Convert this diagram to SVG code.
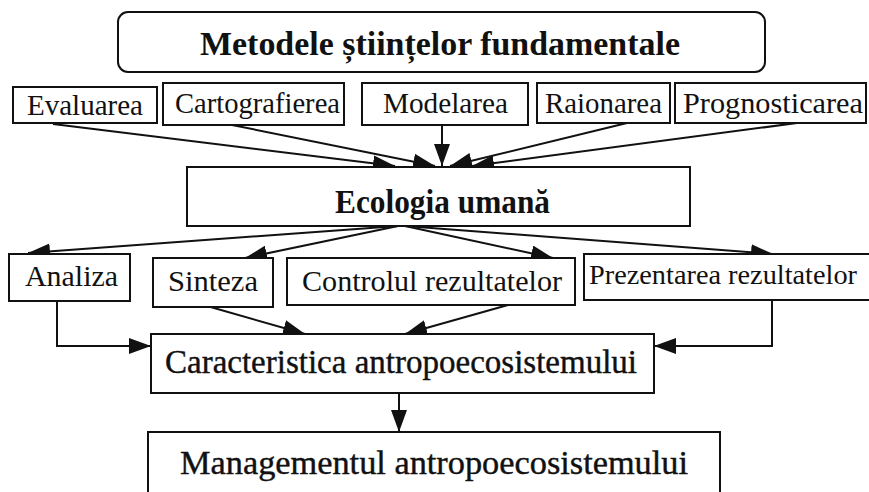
<svg xmlns="http://www.w3.org/2000/svg" width="869" height="492" viewBox="0 0 869 492">
<style>
.box{fill:#fff;stroke:#111;stroke-width:2}
.t{font-family:"Liberation Serif","Times New Roman",serif;fill:#111}
.r{font-size:30px}
.b{font-size:34px;font-weight:bold}
.big{font-size:33px;stroke:#111;stroke-width:0.4}
.c{fill:none;stroke:#111;stroke-width:2}
</style>
<defs>
<marker id="ah" viewBox="0 0 22 16" refX="22" refY="8" markerWidth="22" markerHeight="16" orient="auto" markerUnits="userSpaceOnUse">
<path d="M0,0 L22,8 L0,16 z" fill="#111"/>
</marker>
</defs>
<rect width="869" height="492" fill="#fff"/>

<g id="connectors">
<line class="c" x1="53" y1="124" x2="395" y2="166" marker-end="url(#ah)"/>
<line class="c" x1="232" y1="125" x2="435" y2="166" marker-end="url(#ah)"/>
<line class="c" x1="442" y1="125" x2="442" y2="166" marker-end="url(#ah)"/>
<line class="c" x1="627" y1="123" x2="450" y2="166" marker-end="url(#ah)"/>
<line class="c" x1="797" y1="123" x2="472" y2="166" marker-end="url(#ah)"/>
<line class="c" x1="398" y1="226" x2="28" y2="253" marker-end="url(#ah)"/>
<line class="c" x1="398" y1="226" x2="245" y2="258" marker-end="url(#ah)"/>
<line class="c" x1="405" y1="226" x2="553" y2="258" marker-end="url(#ah)"/>
<line class="c" x1="405" y1="226" x2="773" y2="254" marker-end="url(#ah)"/>
<polyline class="c" points="57,300 57,346 151,346" marker-end="url(#ah)"/>
<line class="c" x1="207" y1="306" x2="305" y2="334" marker-end="url(#ah)"/>
<line class="c" x1="508" y1="305" x2="405" y2="334" marker-end="url(#ah)"/>
<polyline class="c" points="772,300 772,346 654,346" marker-end="url(#ah)"/>
<line class="c" x1="399" y1="393" x2="399" y2="432" marker-end="url(#ah)"/>
</g>

<g id="metodele">
<rect class="box" x="118" y="12" width="647" height="60" rx="10" stroke-width="2.5"/>
<text class="t b" x="200" y="55" textLength="480" lengthAdjust="spacingAndGlyphs">Metodele științelor fundamentale</text>
</g>
<g id="evaluarea">
<rect class="box" x="13" y="87" width="144" height="36"/>
<text class="t r" x="27" y="115" textLength="116" lengthAdjust="spacingAndGlyphs">Evaluarea</text>
</g>
<g id="cartografierea">
<rect class="box" x="163" y="83" width="181" height="42"/>
<text class="t r" x="175" y="113" textLength="165" lengthAdjust="spacingAndGlyphs">Cartografierea</text>
</g>
<g id="modelarea">
<rect class="box" x="362" y="83" width="166" height="42"/>
<text class="t r" x="383" y="113" textLength="125" lengthAdjust="spacingAndGlyphs">Modelarea</text>
</g>
<g id="raionarea">
<rect class="box" x="537" y="83" width="133" height="40"/>
<text class="t r" x="545" y="113" textLength="117" lengthAdjust="spacingAndGlyphs">Raionarea</text>
</g>
<g id="prognosticarea">
<rect class="box" x="675" y="83" width="191" height="40"/>
<text class="t r" x="683" y="113" textLength="180" lengthAdjust="spacingAndGlyphs">Prognosticarea</text>
</g>
<g id="ecologia">
<rect class="box" x="187" y="167" width="503" height="59"/>
<text class="t b" x="335" y="213" textLength="215" lengthAdjust="spacingAndGlyphs" font-size="31">Ecologia umană</text>
</g>
<g id="analiza">
<rect class="box" x="9" y="254" width="121" height="47"/>
<text class="t r" x="25" y="286" textLength="93" lengthAdjust="spacingAndGlyphs">Analiza</text>
</g>
<g id="sinteza">
<rect class="box" x="153" y="258" width="120" height="49"/>
<text class="t r" x="168" y="291" textLength="90" lengthAdjust="spacingAndGlyphs">Sinteza</text>
</g>
<g id="controlul">
<rect class="box" x="287" y="258" width="288" height="47"/>
<text class="t r" x="302" y="291" textLength="260" lengthAdjust="spacingAndGlyphs">Controlul rezultatelor</text>
</g>
<g id="prezentarea">
<rect class="box" x="584" y="254" width="300" height="46"/>
<text class="t" x="589" y="284" font-size="28" textLength="268" lengthAdjust="spacingAndGlyphs">Prezentarea rezultatelor</text>
</g>
<g id="caracteristica">
<rect class="box" x="151" y="334" width="503" height="59"/>
<text class="t big" x="165" y="373" textLength="472" lengthAdjust="spacingAndGlyphs">Caracteristica antropoecosistemului</text>
</g>
<g id="managementul">
<rect class="box" x="148" y="432" width="572" height="80"/>
<text class="t big" x="180" y="474" textLength="508" lengthAdjust="spacingAndGlyphs">Managementul antropoecosistemului</text>
</g>
</svg>
